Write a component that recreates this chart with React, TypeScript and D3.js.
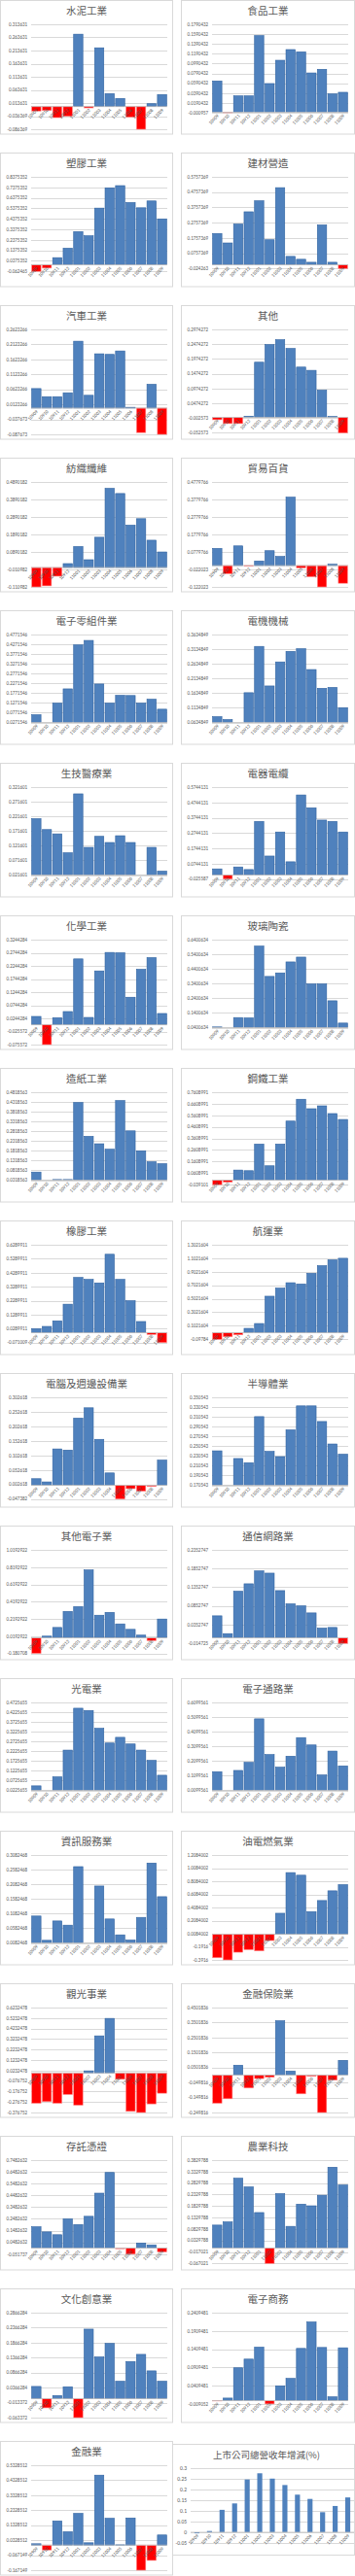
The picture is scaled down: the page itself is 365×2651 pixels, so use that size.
import React from "react";
import * as d3 from "d3";

const categories = ["10909", "10910", "10911", "10912", "11001", "11002", "11003", "11004", "11005", "11006", "11007", "11008", "11009"];

const titles = [
  "水泥工業", "食品工業", "塑膠工業", "建材營造", "汽車工業", "其他", "紡織纖維", "貿易百貨",
  "電子零組件業", "電機機械", "生技醫療業", "電器電纜", "化學工業", "玻璃陶瓷", "造紙工業", "鋼鐵工業",
  "橡膠工業", "航運業", "電腦及週邊設備業", "半導體業", "其他電子業", "通信網路業", "光電業", "電子通路業",
  "資訊服務業", "油電燃氣業", "觀光事業", "金融保險業", "存託憑證", "農業科技", "文化創意業", "電子商務", "金融業",
];

const cement = [-0.017, -0.015, -0.042, -0.037, 0.276, -0.005, 0.224, 0.0495, 0.031, -0.04, -0.086369, 0.011, 0.046];
const food = [0.0636, -0.0009568, 0.0333, 0.0333, 0.156, 0.0584, 0.1058, 0.1276, 0.123, 0.08, 0.0874, 0.0373, 0.0406];
const plastics = [-0.0624648, -0.031, 0.068, 0.158, 0.316, 0.276, 0.54, 0.733, 0.754, 0.593, 0.543, 0.608, 0.437];
const construction = [0.205, 0.143, 0.267, 0.347, 0.419, 0.164, 0.505, 0.055, 0.036, 0.0165, 0.261, 0.0165, -0.0242631];
const automobile = [0.065, 0.038, 0.038, 0.051, 0.223, 0.0426, 0.181, 0.179, 0.1905, 0.0026, -0.0817, 0.0793, -0.0876734];
const others = [-0.008, -0.021, -0.021, 0.004, 0.1865, 0.246, 0.2626, 0.233, 0.17, 0.159, 0.092, 0.003, -0.0525728];
const textiles = [-0.1109818, -0.105, -0.0497, 0.0223, 0.12, 0.0445, 0.173, 0.4525, 0.423, 0.242, 0.279, 0.156, 0.0888];
const trading = [0.098, -0.046, 0.1125, -0.0035, 0.026, 0.085, 0.052, 0.391, -0.0127, -0.064, -0.1220234, 0.0076, -0.101];
const components = [0.0668, 0.0271546, 0.126, 0.199, 0.424, 0.447, 0.224, 0.126, 0.166, 0.165, 0.126, 0.146, 0.095];
const machinery = [0.0833, 0.0734, 0.0634849, 0.165, 0.323, 0.188, 0.27, 0.306, 0.315, 0.244, 0.18, 0.183, 0.114];
const biotech = [0.2139, 0.1766, 0.162, 0.0974, 0.2985, 0.116, 0.1535, 0.1326, 0.1557, 0.1326, 0.021601, 0.116, 0.0348];
const cable = [0.04, -0.0255869, 0.0526, 0.0357, 0.35, 0.124, 0.281, 0.0864, 0.523, 0.439, 0.359, 0.35, 0.281];
const chemical = [0.0318, -0.0755716, 0.0269, 0.0504, 0.251, 0.028, 0.2052, 0.2757, 0.2745, 0.105, 0.2114, 0.256, 0.043];
const glass = [0.0445, 0.0400634, 0.1084, 0.1062, 0.596, 0.389, 0.413, 0.488, 0.521, 0.338, 0.338, 0.223, 0.0709];
const paper = [0.0731, 0.0318563, 0.035, 0.035, 0.429, 0.256, 0.218, 0.19, 0.439, 0.284, 0.182, 0.126, 0.116];
const steel = [-0.0391009, -0.0166, 0.0873, 0.0817, 0.312, 0.124, 0.312, 0.511, 0.7, 0.618, 0.643, 0.576, 0.525];
const rubber = [0.029, 0.045, 0.0847, 0.204, 0.395, 0.381, 0.356, 0.561, 0.381, 0.229, 0.08, -0.0124, -0.0710089];
const shipping = [-0.0978396, -0.0595, -0.031, 0.0643, 0.136, 0.54, 0.66, 0.74, 0.721, 0.879, 0.993, 1.079, 1.102];
const computer = [0.0225, 0.0115, 0.125, 0.121, 0.231, 0.2665, 0.158, 0.0424, -0.047382, -0.0117, -0.0205, -0.004, 0.0866];
const semiconductor = [0.241, 0.170543, 0.2253, 0.2167, 0.311, 0.2398, 0.2292, 0.284, 0.333, 0.333, 0.301, 0.255, 0.234];
const otherElectronic = [-0.1807078, 0.0194, 0.12, 0.306, 0.362, 0.787, 0.262, 0.295, 0.161, 0.098, 0.031, -0.032, 0.2176];
const communication = [0.0588, 0.0112, 0.1246, 0.1445, 0.179, 0.173, 0.1263, 0.0908, 0.0856, 0.0666, 0.026, 0.0277, -0.0147253];
const optoelectronic = [0.0456, 0.0225655, 0.0918, 0.2286, 0.443, 0.4313, 0.34, 0.265, 0.294, 0.26, 0.2286, 0.176, 0.1];
const distribution = [0.1374, 0.0099561, 0.146, 0.201, 0.498, 0.254, 0.168, 0.243, 0.37, 0.3198, 0.115, 0.278, 0.177];
const infoService = [0.1, 0.0171, 0.0832, 0.0689, 0.2685, 0.0082468, 0.2024, 0.09, 0.0358, 0.018, 0.0954, 0.2807, 0.166];
const oilGas = [-0.358, -0.3915998, -0.274, -0.234, -0.254, -0.0956, 0.32, 0.94, 0.9, 0.345, 0.514, 0.662, 0.756];
const tourism = [-0.2886, -0.273, -0.2886, -0.205, -0.307, 0.02, 0.3534, 0.52, -0.06, -0.366, -0.3767522, -0.2948, -0.193];
const insurance = [-0.188, -0.158, 0.0655, -0.0863, -0.0234, -0.0147, 0.362, 0.0264, -0.1253, -0.008, -0.2498164, -0.034, 0.098];
const depositary = [0.181, 0.1376, 0.1132, 0.248, 0.2, 0.27, 0.467, 0.643, -0.0057, -0.0517368, 0.043, 0.0268, -0.0327];
const agritech = [0.1, 0.114, 0.304, 0.2663, 0.1546, -0.0670212, 0.237, 0.0945, 0.191, 0.184, 0.23, 0.352, 0.2747];
const cultural = [0.0406, -0.0307, 0.0104, 0.0395, -0.0633716, 0.2317, 0.139, 0.184, 0.0579, 0.1238, 0.1475, 0.0925, 0.0579];
const ecommerce = [-0.001, 0.0069, 0.0899, 0.1137, 0.1465, -0.0090519, 0.0405, 0.0608, 0.143, 0.2155, 0.1456, 0.0104, 0.1447];
const finance = [0.009, -0.0325, 0.161, 0.0894, 0.2115, 0.0155, 0.4667, 0.1788, 0.002, 0.181, -0.1671488, -0.102, 0.0676];

const seriesList = [
  cement, food, plastics, construction, automobile, others, textiles, trading,
  components, machinery, biotech, cable, chemical, glass, paper, steel,
  rubber, shipping, computer, semiconductor, otherElectronic, communication, optoelectronic, distribution,
  infoService, oilGas, tourism, insurance, depositary, agritech, cultural, ecommerce, finance,
];

const majorSteps = [0.05, 0.02, 0.1, 0.1, 0.05, 0.05, 0.1, 0.1, 0.05, 0.05, 0.05, 0.1, 0.05, 0.1, 0.05, 0.1, 0.1, 0.2, 0.05, 0.02, 0.2, 0.05, 0.05, 0.1, 0.05, 0.2, 0.1, 0.1, 0.1, 0.05, 0.05, 0.05, 0.1];
const tickCounts = [9, 10, 10, 7, 8, 8, 7, 7, 10, 7, 7, 7, 9, 7, 10, 9, 8, 8, 8, 10, 7, 6, 10, 7, 7, 9, 11, 8, 9, 10, 8, 6, 8];

const totalTitle = "上市公司總營收年增減(%)";
const totalValues = [-0.005, 0.006, 0.105, 0.135, 0.247, 0.276, 0.251, 0.221, 0.176, 0.156, 0.094, 0.123, 0.163];
const totalTicks = [-0.05, 0, 0.05, 0.1, 0.15, 0.2, 0.25, 0.3];

const BLUE = "#4f81bd";
const BLUE_EDGE = "#2f62a0";
const RED = "#ff0000";
const GRID = "#d9d9d9";
const TEXT = "#595959";
const FONT = "'Noto Sans CJK TC', 'Noto Sans', sans-serif";
const NUMFONT = "Calibri, 'Liberation Sans', Arial, sans-serif";

function fmt(v: number): string {
  const d = Math.abs(v) < 1e-12 ? 0 : v;
  const s = d < 0 ? d.toFixed(6) : d.toFixed(7);
  return String(parseFloat(s));
}

function Panel({ title, values, step, count, x0, y0 }: { title: string; values: number[]; step: number; count: number; x0: number; y0: number }) {
  const min = d3.min(values) as number;
  const max = min + step * (count - 1);
  const base = min > 0 ? min : 0;
  const zeroFrac = (max - base) / (max - min);
  const H = Math.min(108, 90.5 / zeroFrac);
  const top = y0 + 24.5;
  const y = d3.scaleLinear().domain([min, max]).range([top + H, top]);
  const x = d3.scaleBand<string>().domain(categories).range([x0 + 31.5, x0 + 171.5]).paddingInner(0.12).paddingOuter(0.06);
  const ticks = d3.range(count).map((i) => min + i * step);
  const [left, right] = x.range();
  const by = y(base);
  return (
    <g>
      <rect x={x0} y={y0} width={x0 > 100 ? 178 : 177} height={137.5} fill="#fff" stroke={GRID} strokeWidth={1} />
      <text x={x0 + (x0 > 100 ? 89 : 88.5)} y={y0 + 14.5} textAnchor="middle" fontSize={10.5} fill={TEXT} fontFamily={FONT}>{title}</text>
      {ticks.map((t, i) => (
        <g key={i}>
          <line x1={left} x2={right} y1={Math.round(y(t)) + 0.5} y2={Math.round(y(t)) + 0.5} stroke={GRID} strokeWidth={1} />
          <text x={left - 4} y={y(t)} dy="0.35em" textAnchor="end" fontSize={5} fill={TEXT} fontFamily={NUMFONT}>{fmt(t)}</text>
        </g>
      ))}
      {values.map((v, i) => {
        const c = categories[i];
        const yy = Math.min(y(v), by);
        const h = Math.abs(y(v) - by);
        const neg = v < 0;
        return (
          <rect key={c} x={x(c)} y={yy} width={x.bandwidth()} height={Math.max(h, 0)}
            fill={neg ? RED : BLUE} stroke={neg ? "#ff8c8c" : BLUE_EDGE} strokeWidth={0.6} />
        );
      })}
      <line x1={left} x2={right} y1={by} y2={by} stroke="#bfbfbf" strokeWidth={0.8} />
      {categories.map((c) => {
        const cx = (x(c) as number) + x.bandwidth() / 2 + 2;
        const cy = by + 4;
        return (
          <text key={c} transform={`translate(${cx},${cy}) rotate(-45)`} textAnchor="end" fontSize={5} fill={TEXT} fontFamily={NUMFONT}>{c}</text>
        );
      })}
    </g>
  );
}

function TotalPanel() {
  const x0 = 176.5, y0 = 2515.5;
  const top = 2540, bottom = 2617;
  const y = d3.scaleLinear().domain([-0.05, 0.3]).range([bottom, top]);
  const x = d3.scaleBand<string>().domain(categories).range([196, 364]).paddingInner(0.6).paddingOuter(0.3);
  const by = y(0);
  return (
    <g>
      <rect x={x0} y={y0} width={188} height={114} fill="#fff" stroke={GRID} strokeWidth={1} />
      <text x={274} y={2530} textAnchor="middle" fontSize={9.5} fill={TEXT} fontFamily={FONT}>{totalTitle}</text>
      {totalTicks.map((t, i) => (
        <g key={i}>
          <line x1={196} x2={364} y1={Math.round(y(t)) + 0.5} y2={Math.round(y(t)) + 0.5} stroke={GRID} strokeWidth={1} />
          <text x={192} y={y(t)} dy="0.35em" textAnchor="end" fontSize={5.5} fill={TEXT} fontFamily={NUMFONT}>{String(t)}</text>
        </g>
      ))}
      {totalValues.map((v, i) => {
        const c = categories[i];
        return (
          <rect key={c} x={x(c)} y={Math.min(y(v), by)} width={x.bandwidth()} height={Math.abs(y(v) - by)} fill={BLUE} />
        );
      })}
      <line x1={196} x2={364} y1={by} y2={by} stroke="#bfbfbf" strokeWidth={0.8} />
      {categories.map((c) => {
        const cx = (x(c) as number) + x.bandwidth() / 2 + 2;
        const cy = by + 4;
        return (
          <text key={c} transform={`translate(${cx},${cy}) rotate(-45)`} textAnchor="end" fontSize={5} fill={TEXT} fontFamily={NUMFONT}>{c}</text>
        );
      })}
    </g>
  );
}

export default function App() {
  return (
    <svg width={365} height={2651} style={{ position: "absolute", left: 0, top: 0, background: "#fff" }}>
      <rect x={0} y={0} width={365} height={2651} fill="#fff" />
      <TotalPanel />
      {titles.map((t, i) => {
        const row = Math.floor(i / 2);
        const col = i % 2;
        const x0 = col === 0 ? 0.5 : 186.5;
        const y0 = row * 157 + 0.5;
        return <Panel key={t} title={t} values={seriesList[i]} step={majorSteps[i]} count={tickCounts[i]} x0={x0} y0={y0} />;
      })}
    </svg>
  );
}
